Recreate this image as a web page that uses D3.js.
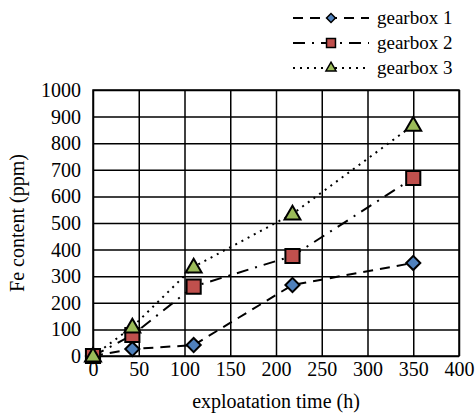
<!DOCTYPE html>
<html>
<head>
<meta charset="utf-8">
<script src="https://cdn.jsdelivr.net/npm/d3@7"></script>
</head>
<body style="margin:0">
<script>
// values
var hours = [0, 43, 110, 218, 350];
var gearbox1 = [0, 26, 41, 267, 350];
var gearbox2 = [0, 79, 261, 376, 669];
var gearbox3 = [0, 109, 335, 534, 868];
var seriesNames = ["gearbox 1", "gearbox 2", "gearbox 3"];
var xTicks = [0, 50, 100, 150, 200, 250, 300, 350, 400];
var yTicks = [0, 100, 200, 300, 400, 500, 600, 700, 800, 900, 1000];

function serif(sel, size) {
    sel.attr("font-family", "Liberation Serif")
       .attr("font-size", size)
       .attr("style", "font-family: 'Liberation Serif', Tinos, serif; font-size: " + size + "px;");
}

var margin = {top: 90, right: 16, bottom: 60, left: 93};
var width = 475 - margin.left - margin.right;
var height = 416 - margin.top - margin.bottom;

var svg = d3.select("body").append("svg")
    .attr("width", 475)
    .attr("height", 416);

var g = svg.append("g")
    .attr("transform", "translate(" + margin.left + "," + margin.top + ")");

var x = d3.scaleLinear().domain([0, 400]).range([0, width]);
var y = d3.scaleLinear().domain([0, 1000]).range([height, 0]);

// grid + tick labels
var xAxis = g.append("g")
    .attr("transform", "translate(0," + height + ")")
    .call(d3.axisBottom(x).tickValues(xTicks).tickFormat(d3.format("d")).tickSize(-height).tickPadding(6));
var yAxis = g.append("g")
    .call(d3.axisLeft(y).tickValues(yTicks).tickFormat(d3.format("d")).tickSize(-width).tickPadding(12));

[xAxis, yAxis].forEach(function(a) {
    a.attr("font-family", null).attr("font-size", null);
    a.selectAll("line").attr("stroke", "#000").attr("stroke-width", 1.5);
    a.select(".domain").remove();
    a.selectAll("text").attr("fill", "#000").call(serif, 20);
});

g.append("rect")
    .attr("width", width).attr("height", height)
    .attr("fill", "none").attr("stroke", "#000").attr("stroke-width", 1.5);

var series = [
    {name: seriesNames[0], values: gearbox1, color: "#4F81BD", dash: "10,7", shape: "diamond"},
    {name: seriesNames[1], values: gearbox2, color: "#C0504D", dash: "12,7,2,7", shape: "square"},
    {name: seriesNames[2], values: gearbox3, color: "#9BBB59", dash: "2,5", shape: "triangle"}
];

var line = d3.line()
    .x(function(d) { return x(d[0]); })
    .y(function(d) { return y(d[1]); });

series.forEach(function(s) {
    var pts = hours.map(function(h, i) { return [h, s.values[i]]; });
    g.append("path")
        .datum(pts)
        .attr("d", line)
        .attr("fill", "none")
        .attr("stroke", "#000")
        .attr("stroke-width", 2)
        .attr("stroke-dasharray", s.dash);
});

function markerPath(shape, k) {
    if (shape === "square") return d3.symbol().type(d3.symbolSquare).size(200 * k)();
    if (shape === "triangle") return d3.symbol().type(d3.symbolTriangle).size(110 * k)();
    return d3.symbol().type(d3.symbolSquare).size(100 * k)();
}

series.forEach(function(s) {
    g.selectAll(null)
        .data(hours.map(function(h, i) { return [h, s.values[i]]; }))
        .enter().append("path")
        .attr("d", markerPath(s.shape, 1))
        .attr("transform", function(d) {
            var t = "translate(" + x(d[0]) + "," + y(d[1]) + ")";
            if (s.shape === "diamond") t += " rotate(45)";
            if (s.shape === "triangle") t = "translate(" + x(d[0]) + "," + (y(d[1]) + 1) + ")";
            return t;
        })
        .attr("fill", s.color)
        .attr("stroke", "#000")
        .attr("stroke-width", 2);
});

// axis titles
svg.append("text")
    .attr("x", margin.left + width / 2)
    .attr("y", 408)
    .attr("text-anchor", "middle")
    .call(serif, 20)
    .text("exploatation time (h)");

svg.append("text")
    .attr("transform", "translate(24," + (margin.top + height / 2) + ") rotate(-90)")
    .attr("text-anchor", "middle")
    .call(serif, 20)
    .text("Fe content (ppm)");

// legend
var legend = svg.append("g").attr("transform", "translate(293,0)");
series.forEach(function(s, i) {
    var ly = 18 + i * 25;
    legend.append("line")
        .attr("x1", 0).attr("x2", 76)
        .attr("y1", ly).attr("y2", ly)
        .attr("stroke", "#000")
        .attr("stroke-width", 2)
        .attr("stroke-dasharray", s.dash);
    legend.append("path")
        .attr("d", markerPath(s.shape, 0.4))
        .attr("transform", "translate(38," + ly + ")" + (s.shape === "diamond" ? " rotate(45)" : ""))
        .attr("fill", s.color)
        .attr("stroke", "#000")
        .attr("stroke-width", 1.5);
    legend.append("text")
        .attr("x", 84)
        .attr("y", ly + 6)
        .call(serif, 19)
        .text(s.name);
});
</script>
</body>
</html>
